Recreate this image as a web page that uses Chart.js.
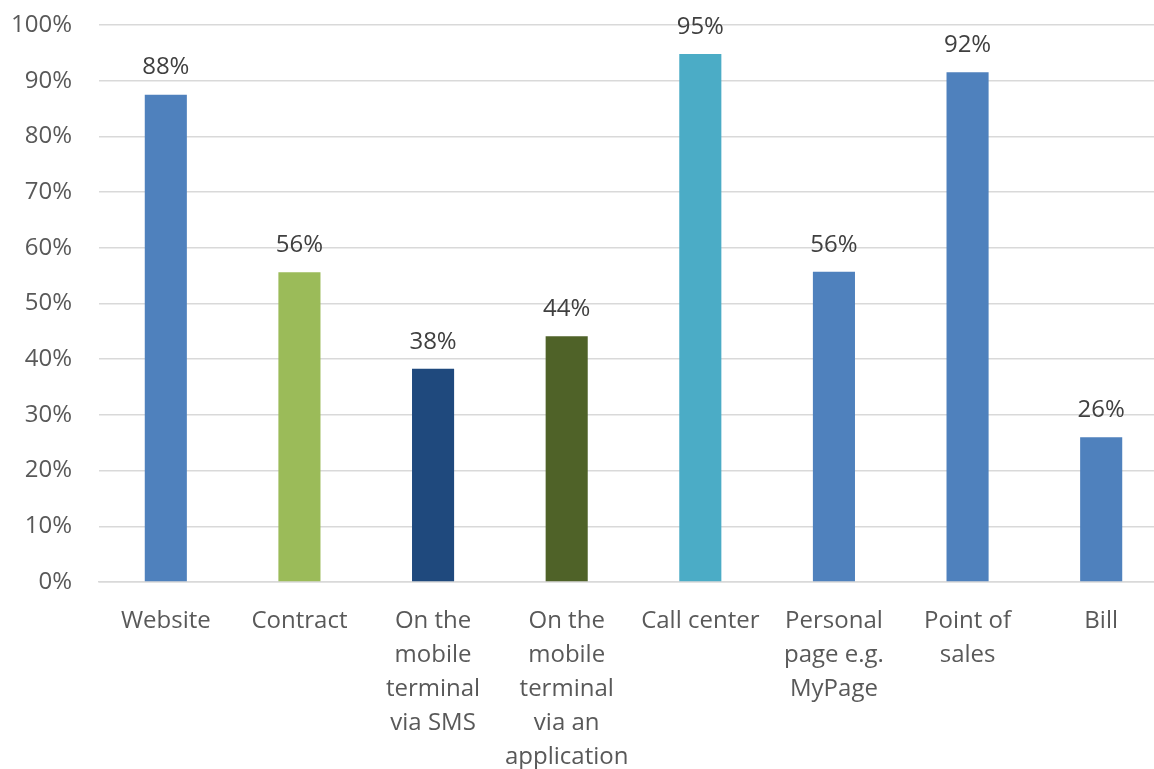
<!DOCTYPE html>
<html>
<head>
<meta charset="utf-8">
<script src="https://cdn.jsdelivr.net/npm/chart.js@4"></script>
<style>
  html, body { margin: 0; padding: 0; background: #fff; overflow: hidden; }
  #wrap { width: 1168px; height: 769px; position: relative; }
</style>
</head>
<body>
<div id="wrap"><canvas id="chart"></canvas></div>
<script>
// Categories (multi-line labels), share values and bar colours
const categories = [
  ["Website"],
  ["Contract"],
  ["On the", "mobile", "terminal", "via SMS"],
  ["On the", "mobile", "terminal", "via an", "application"],
  ["Call center"],
  ["Personal", "page e.g.", "MyPage"],
  ["Point of", "sales"],
  ["Bill"]
];
const shares = [0.875, 0.556, 0.383, 0.441, 0.948, 0.557, 0.915, 0.26];
const barColors = ["#4F81BD", "#9BBB59", "#1F497D", "#4F6228", "#4BACC6", "#4F81BD", "#4F81BD", "#4F81BD"];
const yTicks = [0, 0.1, 0.2, 0.3, 0.4, 0.5, 0.6, 0.7, 0.8, 0.9, 1.0];

const FONT = "'Open Sans', 'DejaVu Sans', sans-serif";
const pct = v => Math.round(v * 100) + "%";

// Draws the rounded percentage above each bar
const valueLabels = {
  id: "valueLabels",
  afterDatasetsDraw(chart) {
    const ctx = chart.ctx;
    const meta = chart.getDatasetMeta(0);
    ctx.save();
    ctx.font = "24px " + FONT;
    ctx.fillStyle = "#404040";
    ctx.textAlign = "center";
    ctx.textBaseline = "middle";
    meta.data.forEach((bar, i) => {
      ctx.fillText(pct(shares[i]), bar.x, bar.y - 27);
    });
    ctx.restore();
  }
};

new Chart(document.getElementById("chart"), {
  type: "bar",
  data: {
    labels: categories,
    datasets: [{
      data: shares,
      backgroundColor: barColors,
      borderWidth: 0,
      barPercentage: 1,
      categoryPercentage: 0.315
    }]
  },
  options: {
    responsive: true,
    maintainAspectRatio: false,
    animation: false,
    layout: { padding: { top: 25, left: 0, right: 0, bottom: 0 } },
    plugins: { legend: { display: false }, tooltip: { enabled: false } },
    scales: {
      y: {
        min: 0,
        max: 1,
        afterFit(scale) {
          scale.width = 99;
          scale.paddingTop = 0;
          scale.paddingBottom = 0;
        },
        afterBuildTicks(scale) { scale.ticks = yTicks.map(v => ({ value: v })); },
        grid: { color: "#D9D9D9", lineWidth: 1.5, drawTicks: false },
        border: { display: false },
        ticks: {
          padding: 27,
          color: "#595959",
          font: { family: FONT, size: 24 },
          callback: v => pct(v)
        }
      },
      x: {
        afterFit(scale) {
          scale.height = 187;
          scale.paddingLeft = 0;
          scale.paddingRight = 0;
        },
        grid: { display: false, drawTicks: false },
        border: { display: true, color: "#D9D9D9", width: 1.5 },
        ticks: {
          padding: 22,
          color: "#595959",
          maxRotation: 0,
          autoSkip: false,
          font: { family: FONT, size: 24, lineHeight: 1.42 }
        }
      }
    }
  },
  plugins: [valueLabels]
});
</script>
</body>
</html>
